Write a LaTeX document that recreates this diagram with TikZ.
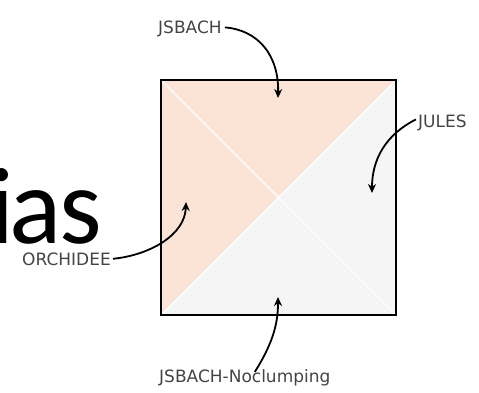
\documentclass[tikz,border=0pt]{standalone}
\usepackage{fontspec}
\setmainfont{Carlito}
\newfontfamily\labelfont{DejaVu Sans}
\usetikzlibrary{arrows.meta}
\definecolor{peach}{HTML}{FBE4D6}
\definecolor{pale}{HTML}{F5F5F5}
\definecolor{labelgray}{HTML}{444444}
\tikzset{
  lbl/.style={inner sep=0pt, font=\labelfont\fontsize{17}{18}\selectfont, text=labelgray},
  pointer/.style={line width=1.8pt, -{Stealth[length=9pt,width=8pt]}},
  split/.style={white, line width=1.2pt}
}
\begin{document}
\begin{tikzpicture}[x=1pt,y=-1pt]
\useasboundingbox (0,0) rectangle (479,392);
% big text
\node[inner sep=0pt, anchor=base west, font=\fontsize{109}{120}\selectfont] (big) at (-11,243) {i\kern-5pt a\kern-2pt s};
% square corners
\coordinate (tl) at (161,80);
\coordinate (tr) at (396,80);
\coordinate (bl) at (161,315);
\coordinate (br) at (396,315);
\coordinate (c) at (278.5,197.5);
\fill[peach] (tl) -- (tr) -- (c) -- cycle;
\fill[peach] (tl) -- (bl) -- (c) -- cycle;
\fill[pale] (tr) -- (br) -- (c) -- cycle;
\fill[pale] (bl) -- (br) -- (c) -- cycle;
\draw[split] (tl) -- (br);
\draw[split] (tr) -- (bl);
\draw[line width=2pt] (tl) rectangle (br);
% labels
\node[lbl, anchor=base west] (jsbach) at (158,33) {JSBACH};
\node[lbl, anchor=base west] (jules) at (418,127) {JULES};
\node[lbl, anchor=base west] (orch) at (22,265) {ORCHIDEE};
\node[lbl, anchor=base west] (nocl) at (159,382) {JSBACH-Noclumping};
% arrow targets
\coordinate (tTop) at (278,98);
\coordinate (tRight) at (372,193);
\coordinate (tLeft) at (186,202);
\coordinate (tBottom) at (278,297);
\draw[pointer] ([xshift=3pt,yshift=1pt]jsbach.east) .. controls (258,30) and (279,55) .. (tTop);
\draw[pointer] ([xshift=-2pt,yshift=3pt]jules.west) .. controls (385,135) and (372,160) .. (tRight);
\draw[pointer] ([xshift=2pt]orch.east) .. controls (150,255) and (185,235) .. (tLeft);
\draw[pointer] ([xshift=10pt,yshift=-3pt]nocl.north) .. controls (275,340) and (278,320) .. (tBottom);
\end{tikzpicture}
\end{document}
